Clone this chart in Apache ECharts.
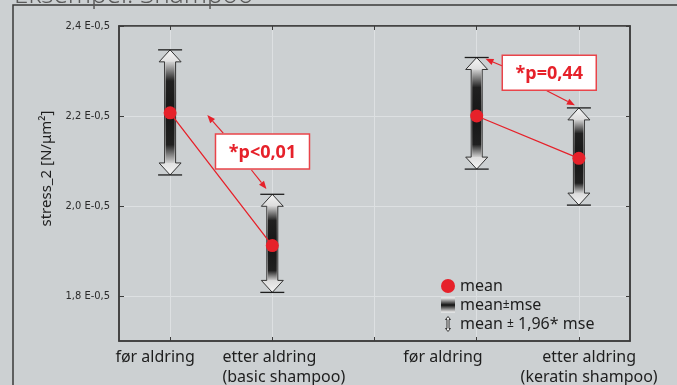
<!DOCTYPE html>
<html>
<head>
<meta charset="utf-8">
<script src="https://cdn.jsdelivr.net/npm/echarts@6/dist/echarts.min.js"></script>
<style>
  html, body { margin: 0; padding: 0; background: #ccd0d2; }
  #chart { width: 677px; height: 385px; }
</style>
</head>
<body>
<div id="chart"></div>
<script>
// data
const categories = ['før aldring', 'etter aldring\n(basic shampoo)', '', 'før aldring', 'etter aldring\n(keratin shampoo)'];
const categoryPositions = [0, 1, 2, 3, 4];
const labelPositions = [0, 1, 3, 4];
const meanValues = [2.207, 1.912, null, 2.200, 2.106];
const ciLower = [2.069, 1.808, null, 2.082, 2.002];
const ciUpper = [2.347, 2.026, null, 2.330, 2.218];
const yTicks = [1.8, 2.0, 2.2, 2.4];
const yTickLabels = ['1,8 E-0,5', '2,0 E-0,5', '2,2 E-0,5', '2,4 E-0,5'];

// significance notes (box centre and arrows, in axis units)
const pLabels = ['*p<0,01', '*p=0,44'];
const pBoxX = [0.904, 3.71];
const pBoxY = [2.121, 2.296];
const pArrowFrom = [[0.52, 2.162], [0.796, 2.08], [3.253, 2.311], [3.686, 2.256]];
const pArrowTo = [[0.364, 2.202], [0.943, 2.038], [3.086, 2.327], [3.961, 2.224]];

const red = '#e6212a';
const axisColor = '#3c3c3c';
const gridColor = '#dde0e2';
const font = "'Noto Sans', 'Open Sans', sans-serif";

// the original places its category labels a little off the ticks
const labelNudge = [-0.147, 0.113, 0, -0.33, 0.1];
const labelAnchors = labelPositions.map(function (i) { return i + labelNudge[i]; });

const barRows = [];
categoryPositions.forEach(function (i) {
  if (meanValues[i] != null) barRows.push([i, ciLower[i], ciUpper[i], meanValues[i]]);
});
const meanData = categoryPositions.map(function (i) {
  return [i, meanValues[i] == null ? '-' : meanValues[i]];
});

const HEAD_W = 11, SHAFT_W = 5.5, HEAD_L = 12;

function renderArrow(params, api) {
  const x = api.value(0);
  const top = api.coord([x, api.value(2)]);
  const bot = api.coord([x, api.value(1)]);
  const cx = top[0], t = top[1], b = bot[1];
  const pts = [
    [cx, t], [cx + HEAD_W, t + HEAD_L], [cx + SHAFT_W, t + HEAD_L],
    [cx + SHAFT_W, b - HEAD_L], [cx + HEAD_W, b - HEAD_L], [cx, b],
    [cx - HEAD_W, b - HEAD_L], [cx - SHAFT_W, b - HEAD_L],
    [cx - SHAFT_W, t + HEAD_L], [cx - HEAD_W, t + HEAD_L]
  ];
  return {
    type: 'group',
    children: [
      {
        type: 'polygon',
        shape: { points: pts },
        style: {
          fill: new echarts.graphic.LinearGradient(0, 0, 0, 1, [
            { offset: 0, color: '#f6f6f6' },
            { offset: 0.5, color: '#8a8a8a' },
            { offset: 1, color: '#f6f6f6' }
          ]),
          stroke: '#333', lineWidth: 1
        }
      },
      { type: 'line', shape: { x1: cx - HEAD_W - 1, y1: t, x2: cx + HEAD_W + 1, y2: t }, style: { stroke: '#1e1e1e', lineWidth: 1.3 } },
      { type: 'line', shape: { x1: cx - HEAD_W - 1, y1: b, x2: cx + HEAD_W + 1, y2: b }, style: { stroke: '#1e1e1e', lineWidth: 1.3 } }
    ]
  };
}

function renderMse(params, api) {
  const x = api.value(0);
  const lo = api.value(1), hi = api.value(2), mean = api.value(3);
  const mse = (hi - lo) / (2 * 1.96);
  const s = api.coord([x, hi])[1] + HEAD_L;
  const e = api.coord([x, lo])[1] - HEAD_L;
  const cx = api.coord([x, mean])[0];
  const f1 = Math.max(0.02, Math.min(0.48, (api.coord([x, mean + mse])[1] - s) / (e - s)));
  const f2 = Math.min(0.98, Math.max(0.52, (api.coord([x, mean - mse])[1] - s) / (e - s)));
  return {
    type: 'rect',
    shape: { x: cx - SHAFT_W + 1, y: s, width: 2 * SHAFT_W - 2, height: e - s },
    style: {
      fill: new echarts.graphic.LinearGradient(0, 0, 0, 1, [
        { offset: 0, color: '#d2d2d2' },
        { offset: f1, color: '#202020' },
        { offset: (f1 + f2) / 2, color: '#161616' },
        { offset: f2, color: '#202020' },
        { offset: 1, color: '#d2d2d2' }
      ])
    }
  };
}

function renderNote(params, api) {
  const p = api.coord([api.value(0), api.value(1)]);
  const w = 94, h = 35;
  return {
    type: 'group',
    children: [
      {
        type: 'rect',
        shape: { x: p[0] - w / 2, y: p[1] - h / 2, width: w, height: h },
        style: { fill: '#ffffff', stroke: '#e9444a', lineWidth: 1.5 }
      },
      {
        type: 'text',
        style: {
          x: p[0], y: p[1] + 1, text: pLabels[params.dataIndex],
          align: 'center', verticalAlign: 'middle',
          fill: red, font: 'bold 18px ' + font
        }
      }
    ]
  };
}

function renderNoteArrow(params, api) {
  const a = api.coord([api.value(0), api.value(1)]);
  const b = api.coord([api.value(2), api.value(3)]);
  const ang = Math.atan2(b[1] - a[1], b[0] - a[0]);
  const L = 8, W = 3.2;
  const bx = b[0] - L * Math.cos(ang), by = b[1] - L * Math.sin(ang);
  const nx = -Math.sin(ang) * W, ny = Math.cos(ang) * W;
  return {
    type: 'group',
    children: [
      { type: 'line', shape: { x1: a[0], y1: a[1], x2: bx, y2: by }, style: { stroke: red, lineWidth: 1.2 } },
      { type: 'polygon', shape: { points: [[b[0], b[1]], [bx + nx, by + ny], [bx - nx, by - ny]] }, style: { fill: red } }
    ]
  };
}

const noteRows = pLabels.map(function (t, i) { return [pBoxX[i], pBoxY[i]]; });
const noteArrowRows = pArrowFrom.map(function (f, i) { return [f[0], f[1], pArrowTo[i][0], pArrowTo[i][1]]; });

const baseText = { fontFamily: font, fontSize: 16, color: '#1e1e1e', lineHeight: 20 };

const option = {
  backgroundColor: '#ccd0d2',
  animation: false,
  title: {
    text: 'Eksempel: Shampoo',
    left: 9,
    top: -22,
    textStyle: { fontFamily: font, fontSize: 26, fontWeight: 300, color: '#5a5a5a' }
  },
  graphic: [
    {
      type: 'rect',
      shape: { x: 13, y: 5, width: 700, height: 400 },
      style: { fill: 'none', stroke: '#3a3a3a', lineWidth: 1.5 }
    }
  ],
  grid: {
    left: 119, right: 47, top: 26, bottom: 44,
    show: true, borderColor: axisColor, borderWidth: 1.5, backgroundColor: 'transparent'
  },
  legend: {
    orient: 'vertical',
    left: 441,
    top: 278,
    padding: 0,
    itemGap: 3,
    itemWidth: 14,
    itemHeight: 15,
    textStyle: {
      fontFamily: font, fontSize: 16, color: '#1e1e1e',
      rich: {
        t: { fontFamily: font, fontSize: 16, color: '#1e1e1e' },
        s: { fontFamily: font, fontSize: 12, color: '#1e1e1e' }
      }
    },
    formatter: function (name) {
      if (name === 'mean±mse') return '{t|mean}{s|±}{t|mse}';
      if (name === 'mean ± 1,96* mse') return '{t|mean }{s|±}{t| 1,96* mse}';
      return name;
    },
    data: [
      { name: 'mean', icon: 'circle', itemStyle: { color: red } },
      {
        name: 'mean±mse', icon: 'rect',
        itemStyle: {
          color: new echarts.graphic.LinearGradient(0, 0, 0, 1, [
            { offset: 0, color: '#f4f4f4' },
            { offset: 0.5, color: '#111' },
            { offset: 1, color: '#f4f4f4' }
          ])
        }
      },
      {
        name: 'mean ± 1,96* mse',
        icon: 'path://M5,0 L10,6 L7,6 L7,24 L10,24 L5,30 L0,24 L3,24 L3,6 L0,6 Z',
        itemStyle: { color: '#f2f2f2', borderColor: '#333', borderWidth: 1 }
      }
    ]
  },
  xAxis: [
    {
      type: 'value',
      min: -0.5,
      max: 4.5,
      axisLine: { show: true, onZero: false, lineStyle: { color: axisColor, width: 1.5 } },
      axisTick: { show: true, inside: true, length: 4, customValues: categoryPositions, lineStyle: { color: axisColor } },
      splitLine: { show: true, lineStyle: { color: gridColor, width: 1 } },
      axisLabel: {
        customValues: labelAnchors,
        hideOverlap: false,
        margin: 6,
        formatter: function (v) {
          const k = labelAnchors.findIndex(function (a) { return Math.abs(a - v) < 1e-6; });
          if (k < 0) return '';
          const i = labelPositions[k];
          return '{c' + i + '|' + categories[i] + '}';
        },
        rich: {
          c0: baseText,
          c1: Object.assign({}, baseText, { align: 'left' }),
          c3: baseText,
          c4: baseText
        }
      }
    },
    {
      type: 'value',
      position: 'top',
      min: -0.5,
      max: 4.5,
      axisLine: { show: true, onZero: false, lineStyle: { color: axisColor, width: 1.5 } },
      axisTick: { show: true, inside: true, length: 4, customValues: categoryPositions, lineStyle: { color: axisColor } },
      splitLine: { show: false },
      axisLabel: { show: false }
    }
  ],
  yAxis: [
    {
      type: 'value',
      min: 1.7,
      max: 2.4,
      name: 'stress_2 [N/μm²]',
      nameLocation: 'middle',
      nameGap: 64,
      nameTextStyle: { fontFamily: font, fontSize: 15, color: '#1e1e1e', padding: [0, 0, 0, 30] },
      axisLine: { show: true, onZero: false, lineStyle: { color: axisColor, width: 1.5 } },
      axisTick: { show: true, inside: true, length: 5, customValues: yTicks, lineStyle: { color: axisColor } },
      splitLine: { show: true, lineStyle: { color: gridColor, width: 1 } },
      axisLabel: {
        customValues: yTicks,
        margin: 9,
        fontFamily: "'Liberation Sans Narrow', 'DejaVu Sans Condensed', sans-serif",
        fontSize: 11,
        color: '#2a2a2a',
        formatter: function (v) {
          const k = yTicks.findIndex(function (t) { return Math.abs(t - v) < 1e-6; });
          return k >= 0 ? yTickLabels[k] : '';
        }
      }
    },
    {
      type: 'value',
      position: 'right',
      min: 1.7,
      max: 2.4,
      axisLine: { show: true, onZero: false, lineStyle: { color: axisColor, width: 1.5 } },
      axisTick: { show: true, inside: true, length: 4, customValues: yTicks, lineStyle: { color: axisColor } },
      splitLine: { show: false },
      axisLabel: { show: false }
    }
  ],
  series: [
    {
      name: 'mean ± 1,96* mse',
      type: 'custom',
      renderItem: renderArrow,
      encode: { x: 0, y: [1, 2] },
      data: barRows,
      z: 2
    },
    {
      name: 'mean±mse',
      type: 'custom',
      renderItem: renderMse,
      encode: { x: 0, y: [1, 2] },
      data: barRows,
      z: 3
    },
    {
      name: 'mean',
      type: 'line',
      data: meanData,
      symbol: 'circle',
      symbolSize: 13,
      showSymbol: true,
      connectNulls: false,
      itemStyle: { color: red },
      lineStyle: { color: red, width: 1.3 },
      z: 5
    },
    {
      type: 'custom',
      renderItem: renderNoteArrow,
      encode: { x: [0, 2], y: [1, 3] },
      data: noteArrowRows,
      z: 6
    },
    {
      type: 'custom',
      renderItem: renderNote,
      encode: { x: 0, y: 1 },
      data: noteRows,
      z: 7
    }
  ]
};

const chart = echarts.init(document.getElementById('chart'));
chart.setOption(option);
</script>
</body>
</html>
